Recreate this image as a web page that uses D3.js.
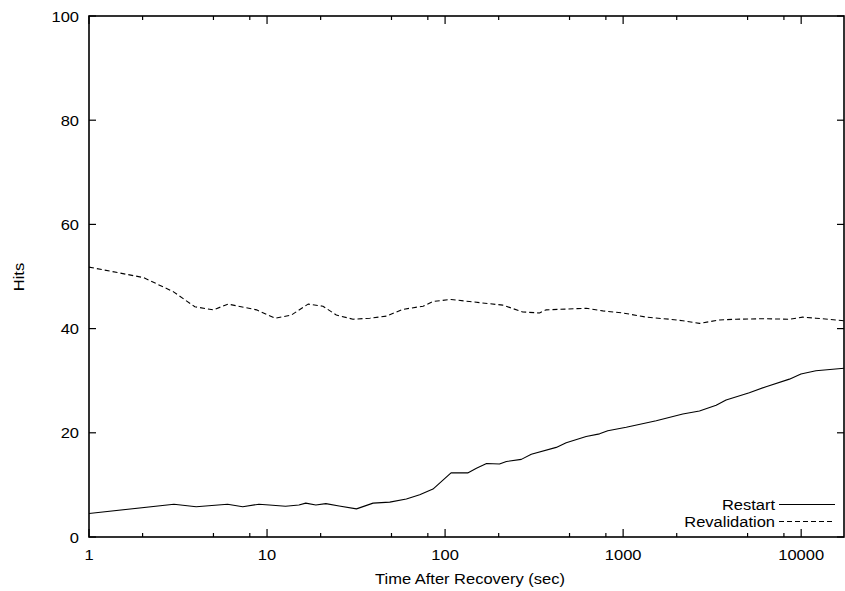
<!DOCTYPE html>
<html>
<head>
<meta charset="utf-8">
<script src="https://cdn.jsdelivr.net/npm/d3@7"></script>
<style>
  body { margin: 0; background: #fff; }
  text { font-family: "Liberation Sans", Arial, sans-serif; font-size: 15px; fill: #000; }
</style>
</head>
<body>
<svg width="845" height="591"></svg>
<script>
// time after recovery (sec) and hits
var restartTime = [1, 3, 4, 6, 7.3, 9, 10.3, 12.7, 15.1, 16.5, 18.8, 21.4, 25.4, 31.8, 39.4, 48.9, 60.6, 72, 85.5, 97.3, 108, 134, 150, 171, 202, 221, 268, 305, 421, 479, 620, 737, 820, 1041, 1534, 2163, 2684, 3330, 3787, 5113, 6350, 8590, 9970, 12100, 17400];
var restartHits = [4.5, 6.3, 5.8, 6.3, 5.8, 6.3, 6.15, 5.9, 6.15, 6.5, 6.15, 6.4, 5.95, 5.4, 6.5, 6.7, 7.3, 8.1, 9.2, 10.9, 12.3, 12.3, 13.2, 14.1, 14.0, 14.5, 14.9, 15.9, 17.2, 18.1, 19.3, 19.8, 20.4, 21.05, 22.3, 23.6, 24.2, 25.3, 26.3, 27.7, 28.85, 30.3, 31.3, 31.9, 32.4];

var revalTime = [1, 2.02, 2.97, 3.93, 4.99, 6.05, 8.73, 11.1, 13.7, 17, 20.6, 24.5, 30.4, 37.8, 46.8, 58.1, 75.2, 85.5, 108, 137, 211, 273, 339, 370, 621, 769, 996, 1348, 1822, 2163, 2684, 3472, 4310, 6080, 8590, 10190, 12100, 17400];
var revalHits = [51.8, 49.8, 47.1, 44.2, 43.6, 44.7, 43.6, 42.0, 42.6, 44.7, 44.3, 42.6, 41.8, 42.0, 42.4, 43.7, 44.3, 45.2, 45.6, 45.2, 44.5, 43.2, 43.0, 43.6, 43.9, 43.4, 43.0, 42.2, 41.8, 41.5, 41.0, 41.65, 41.8, 41.9, 41.8, 42.2, 42.0, 41.5];

var xMajor = [1, 10, 100, 1000, 10000];
var xMinor = [2, 5, 8, 20, 50, 80, 200, 500, 800, 2000, 5000, 8000];
var yTicks = [0, 20, 40, 60, 80, 100];

var seriesNames = ["Restart", "Revalidation"];

var svg = d3.select("svg");
var m = { left: 89, right: 844, top: 16, bottom: 537 };

var x = d3.scaleLog().domain([1, 17400]).range([m.left, m.right]);
var y = d3.scaleLinear().domain([0, 100]).range([m.bottom, m.top]);

var g = svg.append("g");

// text looks a bit wider than plain Arial in the reference
function label(px, py, str, anchor, rot) {
  var t = "translate(" + px + "," + py + ")" + (rot ? " rotate(" + rot + ")" : "") + " scale(1.1,1)";
  return g.append("text")
      .attr("transform", t)
      .attr("text-anchor", anchor)
      .text(str);
}

// data lines (straight segments like gnuplot)
var line = d3.line()
    .x(function(d) { return x(d[0]); })
    .y(function(d) { return y(d[1]); });

var restart = d3.zip(restartTime, restartHits);
var reval = d3.zip(revalTime, revalHits);

g.append("path")
    .datum(restart)
    .attr("d", line)
    .attr("fill", "none")
    .attr("stroke", "#000")
    .attr("stroke-width", 1.1)
    .attr("stroke-linejoin", "round");

g.append("path")
    .datum(reval)
    .attr("d", line)
    .attr("fill", "none")
    .attr("stroke", "#000")
    .attr("stroke-width", 1.1)
    .attr("stroke-linejoin", "round")
    .attr("stroke-dasharray", "5,3");

// ticks, gnuplot style (inward, on both bottom and top)
var tickG = g.append("g").attr("stroke", "#000").attr("stroke-width", 1.2);

xMajor.forEach(function(t) {
  tickG.append("line").attr("x1", x(t)).attr("x2", x(t)).attr("y1", m.bottom).attr("y2", m.bottom - 8);
  tickG.append("line").attr("x1", x(t)).attr("x2", x(t)).attr("y1", m.top).attr("y2", m.top + 8);
});
xMinor.forEach(function(t) {
  tickG.append("line").attr("x1", x(t)).attr("x2", x(t)).attr("y1", m.bottom).attr("y2", m.bottom - 4);
  tickG.append("line").attr("x1", x(t)).attr("x2", x(t)).attr("y1", m.top).attr("y2", m.top + 4);
});
yTicks.forEach(function(v) {
  tickG.append("line").attr("x1", m.left).attr("x2", m.left + 7).attr("y1", y(v)).attr("y2", y(v));
  tickG.append("line").attr("x1", m.right).attr("x2", m.right - 7).attr("y1", y(v)).attr("y2", y(v));
});

// border
g.append("rect")
    .attr("x", m.left).attr("y", m.top)
    .attr("width", m.right - m.left).attr("height", m.bottom - m.top)
    .attr("fill", "none")
    .attr("stroke", "#000")
    .attr("stroke-width", 1.6);

// tick labels
xMajor.forEach(function(d) { label(x(d), 560, d, "middle"); });
yTicks.forEach(function(d) { label(79, y(d) + 5.5, d, "end"); });

// axis titles
label(470, 584, "Time After Recovery (sec)", "middle");
label(24, 277, "Hits", "middle", -90);

// legend
var legY = [504.5, 521.5];
seriesNames.forEach(function(name, i) {
  label(775, legY[i] + 5, name, "end");
  g.append("line")
      .attr("x1", 779).attr("x2", 835)
      .attr("y1", legY[i]).attr("y2", legY[i])
      .attr("stroke", "#000")
      .attr("stroke-width", 1.1)
      .attr("stroke-dasharray", i === 1 ? "5,3" : null);
});
</script>
</body>
</html>
